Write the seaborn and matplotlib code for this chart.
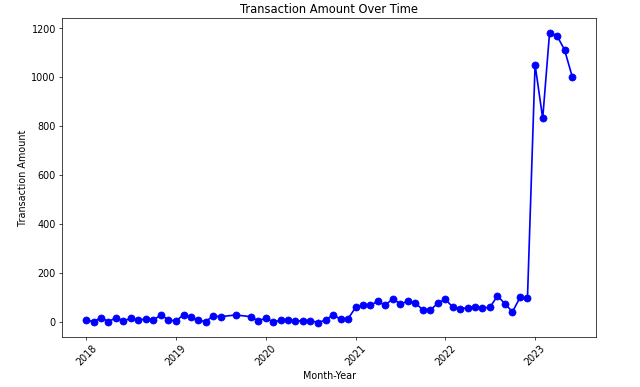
import matplotlib
matplotlib.use("Agg")
import matplotlib.dates as mdates
import matplotlib.pyplot as plt
import pandas as pd
import seaborn as sns

# Monthly transaction totals (2019-08 and 2019-10 have no data)
months = (
    [f"2018-{m:02d}" for m in range(1, 13)]
    + ["2019-01", "2019-02", "2019-03", "2019-04", "2019-05", "2019-06",
       "2019-07", "2019-09", "2019-11", "2019-12"]
    + [f"2020-{m:02d}" for m in range(1, 13)]
    + [f"2021-{m:02d}" for m in range(1, 13)]
    + [f"2022-{m:02d}" for m in range(1, 13)]
    + [f"2023-{m:02d}" for m in range(1, 7)]
)
amounts = [
    8, 2, 18, 2, 17, 5, 15, 7, 14, 8, 30, 8,            # 2018
    5, 30, 20, 8, 2, 25, 22, 29, 22, 5,                 # 2019
    16, 0, 8, 8, 5, 5, 6, -2, 8, 30, 11, 14,            # 2020
    60, 68, 68, 85, 68, 96, 74, 85, 79, 49, 49, 77,     # 2021
    93, 60, 55, 58, 63, 58, 60, 107, 74, 42, 101, 97,   # 2022
    1052, 832, 1183, 1168, 1112, 1003,                  # 2023
]

df = pd.DataFrame({"Month": pd.to_datetime(months), "Amount": amounts})

plt.rcParams["font.size"] = 10.8

fig, ax = plt.subplots(figsize=(10, 6.05), dpi=64)
fig.subplots_adjust(left=0.097, right=0.932, top=0.953, bottom=0.129)

sns.lineplot(
    data=df,
    x="Month",
    y="Amount",
    marker="o",
    color="blue",
    markeredgecolor="blue",
    markersize=8,
    linewidth=1.9,
    ax=ax,
)

ax.set_title("Transaction Amount Over Time", fontsize=13)
ax.set_xlabel("Month-Year")
ax.set_ylabel("Transaction Amount")
ax.xaxis.set_major_locator(mdates.YearLocator())
ax.xaxis.set_major_formatter(mdates.DateFormatter("%Y"))
plt.setp(ax.get_xticklabels(), rotation=45)

fig.savefig("out.png", dpi=64)
plt.close(fig)
